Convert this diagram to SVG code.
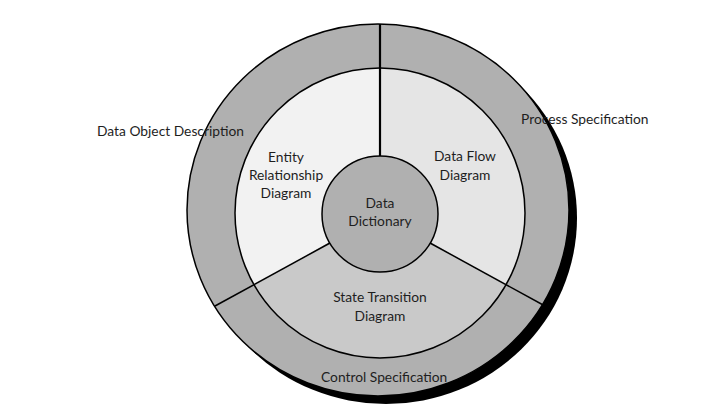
<svg xmlns="http://www.w3.org/2000/svg" width="725" height="420" viewBox="0 0 725 420">
<style>
text{font-family:Lato,"Open Sans","Liberation Sans",sans-serif;font-size:13.8px;fill:#1e1e1e;}
.c{text-anchor:middle;}
.edge{stroke:#000;stroke-width:1.5;}
.div{stroke:#000;stroke-width:1.5;fill:none;}
</style>
<rect width="725" height="420" fill="#fff"/>
<g id="outer-ring">
<ellipse cx="386" cy="218" rx="191" ry="186" fill="#000"/>
<ellipse cx="378" cy="210" rx="191" ry="186" fill="#b0b0b0" class="edge"/>
</g>
<g id="entity-relationship-diagram">
<path d="M380 213 L380 68 A145 145 0 0 0 254.43 285.5 Z" fill="#f2f2f2"/>
</g>
<g id="data-flow-diagram">
<path d="M380 213 L380 68 A145 145 0 0 1 505.57 285.5 Z" fill="#e5e5e5"/>
</g>
<g id="state-transition-diagram">
<path d="M380 213 L254.43 285.5 A145 145 0 0 0 505.57 285.5 Z" fill="#c9c9c9"/>
</g>
<circle cx="380" cy="213" r="145" fill="none" class="edge"/>
<g id="connectors">
<line x1="380" y1="24" x2="380" y2="157" stroke="#000" stroke-width="2.2"/>
<line x1="330" y1="243" x2="215" y2="306" class="div"/>
<line x1="430" y1="243" x2="545" y2="306" class="div"/>
</g>
<g id="data-dictionary">
<circle cx="380" cy="214" r="58" fill="#b0b0b0" class="edge"/>
<text class="c" x="380" y="208">Data</text>
<text class="c" x="380" y="226">Dictionary</text>
</g>
<g id="labels">
<text class="c" x="286" y="162">Entity</text>
<text class="c" x="286" y="180">Relationship</text>
<text class="c" x="286" y="198">Diagram</text>
<text class="c" x="465" y="161">Data Flow</text>
<text class="c" x="465" y="180">Diagram</text>
<text class="c" x="380" y="302">State Transition</text>
<text class="c" x="380" y="321">Diagram</text>
<text x="97" y="136">Data Object Description</text>
<text x="521" y="124">Process Specification</text>
<text x="321" y="382">Control Specification</text>
</g>
</svg>
